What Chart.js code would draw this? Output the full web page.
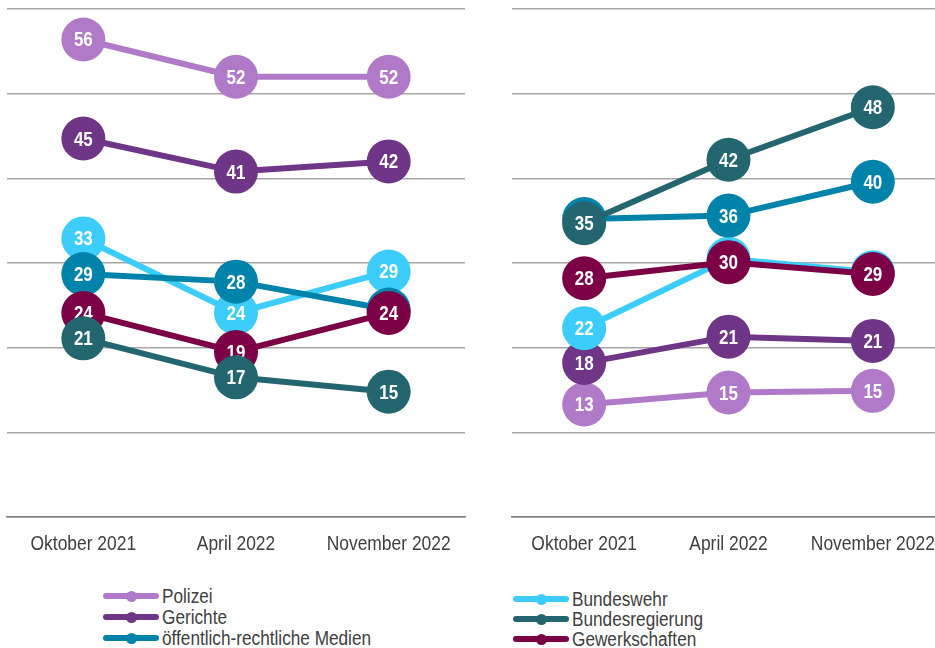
<!DOCTYPE html>
<html>
<head>
<meta charset="utf-8">
<script src="https://cdn.jsdelivr.net/npm/chart.js@4.4.0/dist/chart.umd.min.js"></script>
<style>
html,body{margin:0;padding:0;background:#fff;overflow:hidden;width:935px;height:648px;}
canvas{position:absolute;top:0;}
#c1{left:0;}
#c2{left:480px;}
.item{position:absolute;white-space:nowrap;height:21px;line-height:21px;font-family:'Liberation Sans',Arial,sans-serif;font-size:20px;color:#404040;transform:scaleX(0.86);transform-origin:0 50%;}
.line{position:absolute;height:6px;border-radius:3px;}
.dot{position:absolute;width:11px;height:11px;border-radius:50%;}
</style>
</head>
<body>
<canvas id="c1" width="470" height="580"></canvas>
<canvas id="c2" width="470" height="580"></canvas>
<div id="legends"></div>
<script>
// ---- data ----
const categories = ['Oktober 2021', 'April 2022', 'November 2022'];
const seriesNames = ['Polizei', 'Gerichte', 'öffentlich-rechtliche Medien', 'Bundeswehr', 'Bundesregierung', 'Gewerkschaften'];
const yTicks = [0, 10, 20, 30, 40, 50, 60];

const leftPolizei = [56.4, 52, 52];
const leftGerichte = [44.7, 40.8, 42];
const leftMedien = [28.7, 27.8, 24.5];
const leftBundeswehr = [32.9, 24.1, 29];
const leftBundesregierung = [21.1, 16.5, 14.8];
const leftGewerkschaften = [24.1, 19.49, 24.1];

const rightPolizei = [13.3, 14.7, 14.9];
const rightGerichte = [18.2, 21.3, 20.8];
const rightMedien = [35.2, 35.6, 39.6];
const rightBundeswehr = [22.3, 30.5, 28.9];
const rightBundesregierung = [34.7, 42.2, 48.4];
const rightGewerkschaften = [28.2, 30.1, 28.7];

const leftLegend = ['Polizei', 'Gerichte', 'öffentlich-rechtliche Medien'];
const rightLegend = ['Bundeswehr', 'Bundesregierung', 'Gewerkschaften'];

// ---- styles ----
const colors = {
  'Polizei': '#b07ac9',
  'Gerichte': '#6f3587',
  'öffentlich-rechtliche Medien': '#0083ab',
  'Bundeswehr': '#3dcdfd',
  'Bundesregierung': '#24666f',
  'Gewerkschaften': '#7b0046'
};
// lower = drawn on top
const drawOrder = {
  'Bundesregierung': 0, 'Gewerkschaften': 1, 'öffentlich-rechtliche Medien': 2,
  'Bundeswehr': 3, 'Gerichte': 4, 'Polizei': 5
};
const FONT = "'Liberation Sans',Arial,sans-serif";

function condensedText(ctx, text, x, y, sx) {
  ctx.save();
  ctx.translate(x, y);
  ctx.scale(sx, 1);
  ctx.fillText(text, 0, 0);
  ctx.restore();
}

const labelPlugin = {
  id: 'circleLabels',
  afterDatasetDraw(chart, args) {
    const ctx = chart.ctx;
    const ds = chart.data.datasets[args.index];
    ctx.save();
    ctx.fillStyle = '#ffffff';
    ctx.font = "bold 20px " + FONT;
    ctx.textAlign = 'center';
    ctx.textBaseline = 'alphabetic';
    args.meta.data.forEach((pt, i) => {
      condensedText(ctx, String(Math.round(ds.data[i])), pt.x, pt.y + 7, 0.85);
    });
    ctx.restore();
  },
  afterDraw(chart) {
    const ctx = chart.ctx;
    const xs = chart.scales.x;
    ctx.save();
    ctx.fillStyle = '#404040';
    ctx.font = "21px " + FONT;
    ctx.textAlign = 'center';
    ctx.textBaseline = 'alphabetic';
    chart.data.labels.forEach((lab, i) => {
      condensedText(ctx, lab, xs.getPixelForValue(i), xs.top + 33, 0.83);
    });
    ctx.restore();
  }
};

function makeDatasets(valuesByName) {
  return seriesNames.map(name => ({
    label: name,
    data: valuesByName[name],
    borderColor: colors[name],
    backgroundColor: colors[name],
    pointBackgroundColor: colors[name],
    borderWidth: 6,
    pointRadius: 22,
    pointHoverRadius: 22,
    pointBorderWidth: 0,
    tension: 0,
    order: drawOrder[name],
    clip: false
  }));
}

function makeChart(id, datasets, padLeft, padRight) {
  return new Chart(document.getElementById(id), {
    type: 'line',
    data: { labels: categories, datasets },
    plugins: [labelPlugin],
    options: {
      responsive: false,
      animation: false,
      events: [],
      layout: { autoPadding: false, padding: { left: padLeft, right: padRight, top: 9, bottom: 0 } },
      plugins: { legend: { display: false }, tooltip: { enabled: false } },
      scales: {
        x: {
          offset: true,
          grid: { display: false, drawTicks: false },
          border: { display: true, color: '#7f7f7f', width: 1.5 },
          ticks: { display: false },
          afterFit(s) { s.height = 63; }
        },
        y: {
          min: yTicks[0], max: yTicks[yTicks.length - 1],
          afterBuildTicks(s) { s.ticks = yTicks.map(v => ({ value: v })); },
          ticks: { display: false },
          grid: { color: '#a6a6a6', lineWidth: 1.5, drawTicks: false },
          border: { display: false },
          afterFit(s) { s.width = 0; }
        }
      }
    }
  });
}

makeChart('c1', makeDatasets({
  'Polizei': leftPolizei, 'Gerichte': leftGerichte, 'öffentlich-rechtliche Medien': leftMedien,
  'Bundeswehr': leftBundeswehr, 'Bundesregierung': leftBundesregierung, 'Gewerkschaften': leftGewerkschaften
}), 7, 5);

makeChart('c2', makeDatasets({
  'Polizei': rightPolizei, 'Gerichte': rightGerichte, 'öffentlich-rechtliche Medien': rightMedien,
  'Bundeswehr': rightBundeswehr, 'Bundesregierung': rightBundesregierung, 'Gewerkschaften': rightGewerkschaften
}), 32, 5);

// ---- HTML legends ----
function buildLegend(names, lineX, lineW, textX, centers) {
  const host = document.getElementById('legends');
  names.forEach((name, i) => {
    const cy = centers[i];
    const ln = document.createElement('div');
    ln.className = 'line';
    ln.style.left = lineX + 'px'; ln.style.width = lineW + 'px';
    ln.style.top = (cy - 3) + 'px'; ln.style.background = colors[name];
    host.appendChild(ln);
    const dt = document.createElement('div');
    dt.className = 'dot';
    dt.style.left = (lineX + lineW / 2 - 5.5) + 'px';
    dt.style.top = (cy - 5.5) + 'px'; dt.style.background = colors[name];
    host.appendChild(dt);
    const tx = document.createElement('div');
    tx.className = 'item';
    tx.style.left = textX + 'px';
    tx.style.top = (cy - 10.5) + 'px';
    tx.textContent = name;
    host.appendChild(tx);
  });
}
buildLegend(leftLegend, 103, 56, 162, [596, 617, 638]);
buildLegend(rightLegend, 513, 56, 572, [599, 619, 639]);
</script>
</body>
</html>
